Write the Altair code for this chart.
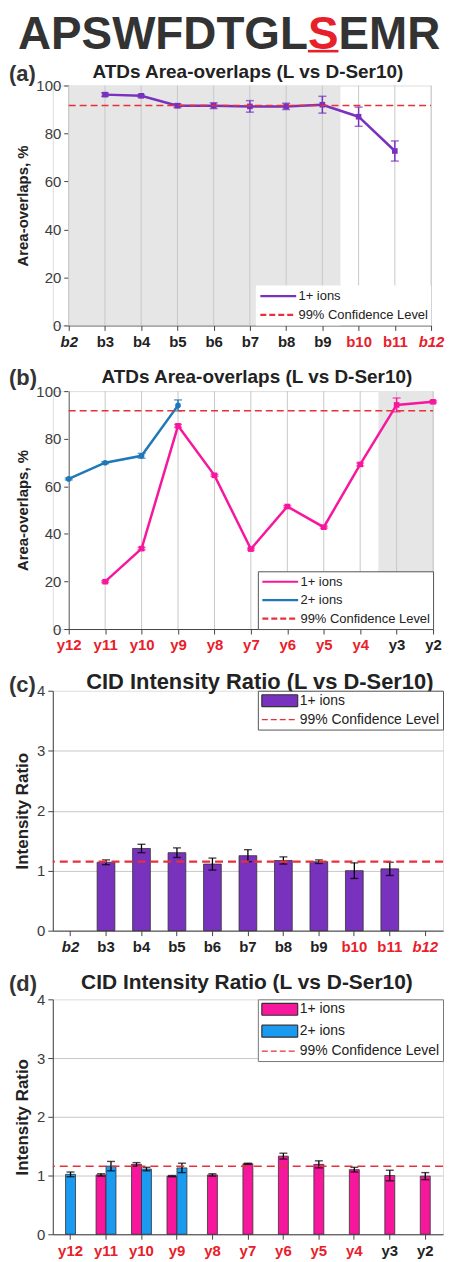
import json
import pandas as pd
import altair as alt

FONT = "Liberation Sans"
DARK = "#333333"
LABEL_DARK = "#222222"
LABEL_RED = "#e8202a"
PURPLE = "#7832bd"
PINK = "#f7179d"
BLUE_LINE = "#1f78b8"
BLUE_BAR = "#1a9af0"
CONF_RED = "#e8303a"
GRID = "#c8c8c8"
SHADE = "#e6e6e6"

# peptide sequence, the modified residue is highlighted
seq_left = "APSWFDTGL"
seq_mod = "S"
seq_right = "EMR"

panel_tags = ["(a)", "(b)", "(c)", "(d)"]
panel_titles = [
    "ATDs Area-overlaps (L vs D-Ser10)",
    "ATDs Area-overlaps (L vs D-Ser10)",
    "CID Intensity Ratio (L vs D-Ser10)",
    "CID Intensity Ratio (L vs D-Ser10)",
]
y_titles = ["Area-overlaps, %", "Area-overlaps, %", "Intensity Ratio", "Intensity Ratio"]
conf_name = "99% Confidence Level"

b_ions = ["b2", "b3", "b4", "b5", "b6", "b7", "b8", "b9", "b10", "b11", "b12"]
b_red = ["b10", "b11", "b12"]
b_italic = ["b2", "b12"]
y_ions = ["y12", "y11", "y10", "y9", "y8", "y7", "y6", "y5", "y4", "y3", "y2"]
y_red = ["y12", "y11", "y10", "y9", "y8", "y7", "y6", "y5", "y4"]

# (a) ATD overlaps, b ions
atd_b1 = [None, 96.2, 95.7, 91.6, 91.6, 91.3, 91.3, 92.0, 87.0, 72.7, None]
atd_b1_err = [None, 0.7, 0.5, 0.8, 1.2, 2.4, 1.3, 3.5, 4.0, 4.2, None]
atd_b_shaded = ["b2", "b9"]
atd_b_conf = 91.7

# (b) ATD overlaps, y ions
atd_y1 = [None, 19.9, 33.8, 85.4, 64.6, 33.6, 51.5, 42.8, 69.2, 94.2, 95.5]
atd_y1_err = [None, 0.4, 0.5, 0.6, 0.4, 0.4, 0.4, 0.4, 0.6, 2.9, 0.4]
atd_y2 = [63.1, 69.9, 72.8, 94.0, None, None, None, None, None, None, None]
atd_y2_err = [0.4, 0.4, 1.0, 2.3, None, None, None, None, None, None, None]
atd_y_shaded = ["y3", "y2"]
atd_y_conf = 91.7

# (c) CID ratio, b ions
cid_b1 = [None, 1.14, 1.37, 1.30, 1.11, 1.25, 1.17, 1.15, 1.00, 1.03, None]
cid_b1_err = [None, 0.04, 0.07, 0.08, 0.10, 0.10, 0.06, 0.03, 0.13, 0.11, None]
cid_b_conf = 1.15

# (d) CID ratio, y ions
cid_y1 = [None, 1.01, 1.19, 0.99, 1.01, 1.20, 1.33, 1.19, 1.10, 1.00, 0.99]
cid_y1_err = [None, 0.02, 0.03, 0.01, 0.02, 0.01, 0.05, 0.06, 0.04, 0.09, 0.06]
cid_y2 = [1.02, 1.16, 1.11, 1.13, None, None, None, None, None, None, None]
cid_y2_err = [0.04, 0.08, 0.03, 0.08, None, None, None, None, None, None, None]
cid_y_conf = 1.16


def frame(ions, vals, errs, series):
    rows = []
    for i, (ion, v, e) in enumerate(zip(ions, vals, errs)):
        if v is None:
            continue
        rows.append({"pos": i, "ion": ion, "series": series, "v": v, "lo": v - e, "hi": v + e})
    return pd.DataFrame(rows)


def text_layer(text, x, y, size, color=DARK, align="left"):
    return alt.Chart(pd.DataFrame({"t": [text]})).mark_text(
        align=align, baseline="alphabetic", font=FONT, fontSize=size,
        fontWeight="bold", color=color
    ).encode(text="t:N", x=alt.value(x), y=alt.value(y))


def label_test(ions, subset, numeric):
    vals = [ions.index(s) for s in subset] if numeric else subset
    return f"indexof({json.dumps(vals)}, datum.value) >= 0"


def x_axis(ions, red, italic, numeric):
    kw = dict(
        title=None, grid=False, labelAngle=0, labelFont=FONT, labelFontSize=15,
        labelFontWeight="bold", labelPadding=4, tickSize=5, labelOverlap=False,
        labelFlush=False, tickColor="#444444", domainColor="#444444",
        labelColor={"condition": {"test": label_test(ions, red, numeric), "value": LABEL_RED},
                    "value": LABEL_DARK},
        labelFontStyle={"condition": {"test": label_test(ions, italic, numeric), "value": "italic"},
                        "value": "normal"},
    )
    if numeric:
        kw["values"] = list(range(len(ions)))
        kw["labelExpr"] = "[" + ",".join(f"'{s}'" for s in ions) + "][datum.value]"
    return alt.Axis(**kw)


def y_axis(values, title, title_size, grid, offset=0):
    kw = dict(
        values=values, title=title, grid=grid, labelFont=FONT, labelFontSize=15,
        labelColor="#3c3c3c", labelPadding=3, tickSize=5, tickColor="#444444",
        domainColor="#444444", titleFont=FONT, titleFontSize=title_size,
        titleFontWeight="bold", titleColor=LABEL_DARK, titlePadding=5, offset=offset,
        labelOverlap=False,
    )
    if grid:
        kw["gridColor"] = GRID
        kw["gridOpacity"] = {"condition": {"test": f"datum.value == {values[-1]}", "value": 0},
                             "value": 1}
    return alt.Axis(**kw)


def legend(orient, stroke, row_pad, font_size, bar=False):
    # small symbol size keeps rows tight; the paths reach 36px to the right
    is_conf = f"datum.value == '{conf_name}'"
    line = "M-1,0H5"
    other = "M-1,-1H5V1H-1Z" if bar else line
    sw = 1.2 if bar else 2.2
    size_px = 12
    label_off = 36 + 3 - max(size_px + sw, font_size)
    kw = dict(
        title=None, orient=orient, offset=0, fillColor="white", padding=3,
        labelFont=FONT, labelFontSize=font_size, labelColor=LABEL_DARK, labelOffset=label_off,
        rowPadding=row_pad, symbolSize=size_px * size_px, symbolStrokeWidth=sw,
        symbolType={"expr": f"{is_conf} ? '{line}' : '{other}'"},
        symbolDash={"expr": f"{is_conf} ? [6, 3] : [1, 0]"},
    )
    if bar:
        kw["symbolStrokeColor"] = {"expr": f"{is_conf} ? '{CONF_RED}' : '#333333'"}
    if stroke:
        kw["strokeColor"] = stroke
    return alt.Legend(**kw)


# the line panels keep the y axis 16px inside the panel's left edge
INSET = 16


def atd_panel(k, ions, series, shaded, conf, width, height, red, italic,
              title_x, title_base, tag_base, leg, extra=()):
    n = len(ions)
    xs = alt.Scale(domain=[0, n - 1], nice=False, zero=False, range=[INSET, width])
    xa = x_axis(ions, red, italic, True)

    def X(f):
        return alt.X(f, scale=xs, axis=xa)

    def Y(f):
        return alt.Y(f, scale=alt.Scale(domain=[0, 100], nice=False),
                     axis=y_axis(list(range(0, 101, 20)), y_titles[k], 15, False, -INSET))

    i0, i1 = ions.index(shaded[0]), ions.index(shaded[1])
    shade = pd.DataFrame({"x0": [max(i0 - 0.5, 0)], "x1": [min(i1 + 0.5, n - 1)]})
    layers = [
        alt.Chart(shade).mark_rect(color=SHADE).encode(x=X("x0:Q"), x2="x1:Q"),
        alt.Chart(pd.DataFrame({"pos": list(range(n))})).mark_rule(
            color=GRID, strokeWidth=1).encode(x=X("pos:Q")),
    ]
    names = [s[0] for s in series] + [conf_name]
    colors = [s[2] for s in series] + [CONF_RED]
    all_df = pd.concat([s[1] for s in series])
    layers.append(alt.Chart(all_df).mark_line(strokeWidth=2.5).encode(
        x=X("pos:Q"), y=Y("v:Q"),
        color=alt.Color("series:N", scale=alt.Scale(domain=names, range=colors), legend=leg)))
    for name, df, color, shape in series:
        layers.append(alt.Chart(df).mark_point(filled=True, shape=shape, size=32,
                                               opacity=1, color=color).encode(x=X("pos:Q"), y=Y("v:Q")))
        layers.append(alt.Chart(df).mark_rule(color=color, strokeWidth=1.5).encode(
            x=X("pos:Q"), y=Y("lo:Q"), y2="hi:Q"))
        layers.append(alt.Chart(df).transform_fold(["lo", "hi"], as_=["end", "cap"]).mark_tick(
            color=color, thickness=1.5, size=8, orient="horizontal").encode(x=X("pos:Q"), y=Y("cap:Q")))
    layers.append(alt.Chart(pd.DataFrame({"conf": [conf], "x0": [0], "x1": [n - 1]})).mark_rule(
        color=CONF_RED, strokeDash=[7, 4], strokeWidth=1.5).encode(
        x=X("x0:Q"), x2="x1:Q", y=Y("conf:Q")))
    layers.append(text_layer(panel_tags[k], -44, tag_base, 22))
    layers.append(text_layer(panel_titles[k], title_x, title_base, 19, LABEL_DARK, "center"))
    layers.extend(extra)
    return alt.layer(*layers).properties(width=width, height=height)


def cid_panel(k, ions, series, conf, width, height, red, italic, title_x, title_base,
              title_size, tag_base, leg, bar_w=None, conf_w=1.5):
    xs = alt.Scale(domain=ions, paddingInner=0.5, paddingOuter=0.25)
    xa = x_axis(ions, red, italic, False)

    def X():
        return alt.X("ion:N", sort=ions, scale=xs, axis=xa)

    def Y(f):
        return alt.Y(f, scale=alt.Scale(domain=[0, 4], nice=False),
                     axis=y_axis([0, 1, 2, 3, 4], y_titles[k], 17, True))

    names = [s[0] for s in series] + [conf_name]
    colors = [s[2] for s in series] + [CONF_RED]
    frames = [s[1] for s in series]
    count = pd.concat(frames)["ion"].value_counts()
    for j, df in enumerate(frames):
        m = df["ion"].map(count)
        df["off"] = [((j - 0.5) * bar_w if c > 1 else 0.0) for c in m]
    all_df = pd.concat(frames)
    color = alt.Color("series:N", scale=alt.Scale(domain=names, range=colors), legend=leg)
    layers = []
    for off, sub in all_df.groupby("off"):
        bar_kw = {"width": bar_w} if bar_w else {}
        layers.append(alt.Chart(sub).mark_bar(stroke="#333333", strokeWidth=0.8,
                                              xOffset=float(off), **bar_kw).encode(
            x=X(), y=Y("v:Q"), color=color))
    for off, sub in all_df.groupby("off"):
        layers.append(alt.Chart(sub).mark_rule(color="black", strokeWidth=1.3,
                                               xOffset=float(off)).encode(
            x=X(), y=Y("lo:Q"), y2="hi:Q"))
        layers.append(alt.Chart(sub).transform_fold(["lo", "hi"], as_=["end", "cap"]).mark_tick(
            color="black", thickness=1.4, size=8, orient="horizontal", xOffset=float(off)).encode(
            x=X(), y=Y("cap:Q")))
    layers.append(alt.Chart(pd.DataFrame({"conf": [conf]})).mark_rule(
        color=CONF_RED, strokeDash=[8, 5], strokeWidth=conf_w).encode(y=Y("conf:Q")))
    layers.append(text_layer(panel_tags[k], -44, tag_base, 22))
    layers.append(text_layer(panel_titles[k], title_x, title_base, title_size, LABEL_DARK, "center"))
    return alt.layer(*layers).properties(width=width, height=height)


# header letters placed above panel (a), Arial-bold advance widths
HFS = 46
anchor = 256.3
s_w = 0.667 * HFS
header = [
    text_layer(seq_left, anchor, -37, HFS, DARK, "right"),
    text_layer(seq_mod, anchor + s_w / 2, -37, HFS, LABEL_RED, "center"),
    text_layer(seq_right, anchor + s_w, -37, HFS, DARK, "left"),
    alt.Chart(pd.DataFrame({"t": [seq_mod]})).mark_rule(color=LABEL_RED, strokeWidth=2.6).encode(
        x=alt.value(anchor), x2=alt.value(anchor + s_w), y=alt.value(-34.5)),
]

pa = atd_panel(
    0, b_ions, [("1+ ions", frame(b_ions, atd_b1, atd_b1_err, "1+ ions"), PURPLE, "square")],
    atd_b_shaded, atd_b_conf, 380, 241, b_red, b_italic, 196, -8, -5,
    legend("bottom-right", None, 4, 13), extra=header)

pb = atd_panel(
    1, y_ions,
    [("1+ ions", frame(y_ions, atd_y1, atd_y1_err, "1+ ions"), PINK, "square"),
     ("2+ ions", frame(y_ions, atd_y2, atd_y2_err, "2+ ions"), BLUE_LINE, "circle")],
    atd_y_shaded, atd_y_conf, 382, 239, y_red, [], 205, -8, -6,
    legend("bottom-right", "#555555", 3.5, 13))

pc = cid_panel(
    2, b_ions, [("1+ ions", frame(b_ions, cid_b1, cid_b1_err, "1+ ions"), PURPLE)],
    cid_b_conf, 392, 241, b_red, b_italic, 208, -2, 22, 1,
    legend("top-right", "#555555", 3, 14, bar=True), conf_w=2.2)

pd_ = cid_panel(
    3, y_ions,
    [("1+ ions", frame(y_ions, cid_y1, cid_y1_err, "1+ ions"), PINK),
     ("2+ ions", frame(y_ions, cid_y2, cid_y2_err, "2+ ions"), BLUE_BAR)],
    cid_y_conf, 392, 236, y_red, [], 195, -10, 21, -8,
    legend("top-right", "#777777", 4, 14, bar=True), bar_w=10)

chart = alt.vconcat(pa, pb, pc, pd_, spacing=16).resolve_scale(
    color="independent"
).properties(padding=0).configure_view(strokeWidth=0).configure(background="white")

chart.save("out.html", embed_options={"renderer": "svg", "actions": False})
